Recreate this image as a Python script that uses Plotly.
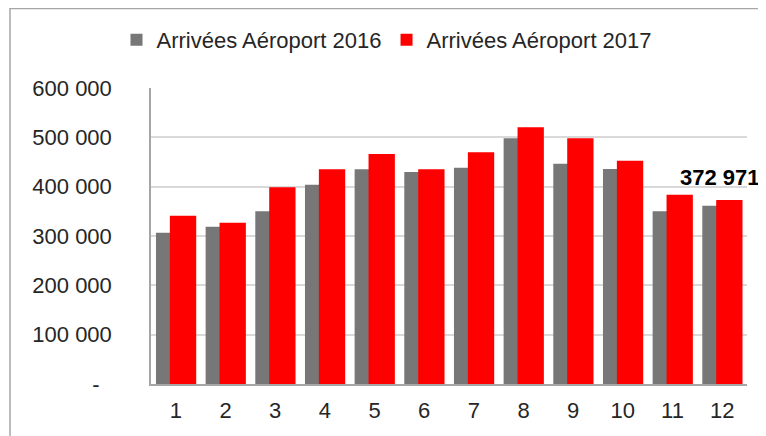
import plotly.graph_objects as go

months = [1, 2, 3, 4, 5, 6, 7, 8, 9, 10, 11, 12]
tick_labels = ["1", "2", "3", "4", "5", "6", "7", "8", "9", "10", "11", "12"]
arr_2016 = [306700, 318900, 350000, 404100, 435100, 429700, 438500, 498000, 446600, 435800, 350000, 361500]
arr_2017 = [341200, 327000, 398600, 435100, 466200, 435100, 469600, 520300, 498000, 452700, 383800, 372971]
y_ticks = [0, 100000, 200000, 300000, 400000, 500000, 600000]
y_tick_text = ["-\u00a0\u00a0", "100 000", "200 000", "300 000", "400 000", "500 000", "600 000"]
label_text = "372 971"

FONT = "Liberation Sans, Arial, sans-serif"
TXT = "#262626"

# page body has an 8px default margin: size the figure to fit the window
W, H = 758, 428
L, R, T, B = 143, 19, 80, 52
PW, PH = W - L - R, H - T - B

fig = go.Figure()
fig.add_trace(go.Bar(
    x=months, y=arr_2016, name="Arrivées Aéroport 2016",
    marker=dict(color="#777777", line=dict(width=0)),
    width=0.53, offset=-0.40,
))
fig.add_trace(go.Bar(
    x=months, y=arr_2017, name="Arrivées Aéroport 2017",
    marker=dict(color="#ff0000", line=dict(width=0)),
    width=0.53, offset=-0.12,
))

fig.add_annotation(
    x=months[-1], y=arr_2017[-1], xref="x", yref="y",
    text="<b>" + label_text + "</b>", showarrow=False,
    yanchor="bottom", yshift=8, xshift=-2,
    font=dict(family=FONT, size=22, color="#000000"),
)

# outer chart border (cropped Excel frame)
fig.add_shape(type="rect", xref="paper", yref="paper",
              x0=-(L - 2) / PW, x1=1.2, y0=-0.3, y1=1 + (T - 0.5) / PH,
              line=dict(color="#a6a6a6", width=1.5), fillcolor="rgba(0,0,0,0)", layer="below")

fig.update_layout(
    width=W, height=H,
    margin=dict(l=L, r=R, t=T, b=B, autoexpand=False),
    paper_bgcolor="white", plot_bgcolor="white",
    barmode="overlay",
    font=dict(family=FONT, size=22, color=TXT),
    showlegend=True,
    legend=dict(orientation="h", x=0.5, xref="container", xanchor="center",
                y=1 - 32 / H, yref="container", yanchor="middle",
                bgcolor="rgba(0,0,0,0)",
                font=dict(family=FONT, size=22, color=TXT),
                itemwidth=30, traceorder="normal"),
    xaxis=dict(
        range=[0.5, 12.5], tickmode="array", tickvals=months, ticktext=tick_labels,
        showgrid=False, showline=True, linecolor="#a6a6a6", linewidth=1.5,
        ticks="", ticklabelstandoff=6, zeroline=False,
        tickfont=dict(family=FONT, size=22, color=TXT),
    ),
    yaxis=dict(
        range=[0, 600000], tickmode="array", tickvals=y_ticks, ticktext=y_tick_text,
        showgrid=True, gridcolor="#d9d9d9", gridwidth=1.5,
        showline=True, linecolor="#a6a6a6", linewidth=1.5, zeroline=False,
        ticks="", ticklabelstandoff=33,
        tickfont=dict(family=FONT, size=22, color=TXT),
    ),
)

fig.write_html("out.html")
